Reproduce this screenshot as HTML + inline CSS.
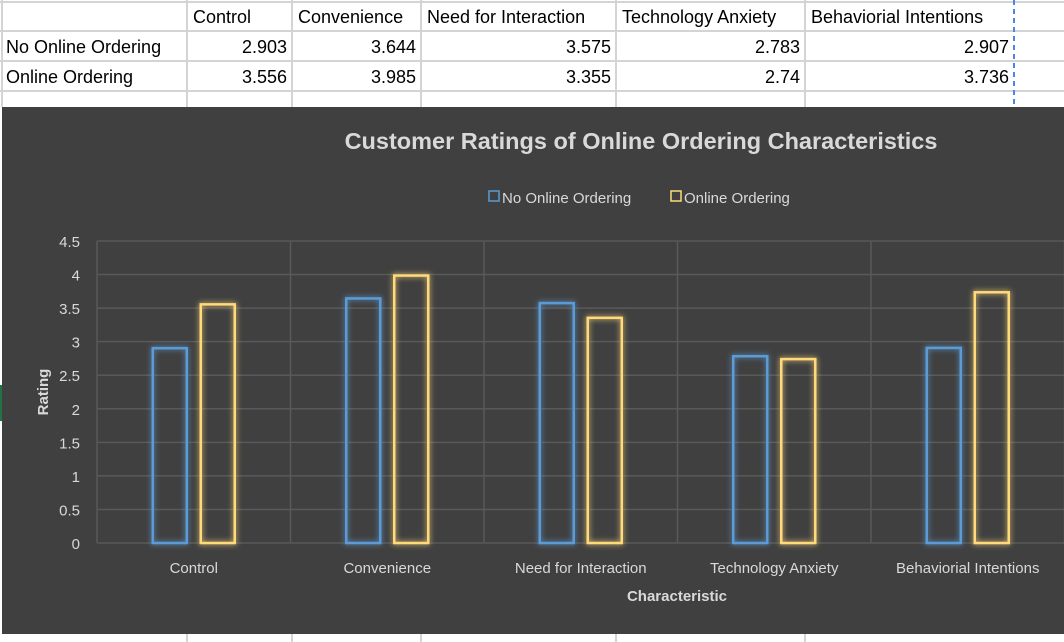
<!DOCTYPE html>
<html><head><meta charset="utf-8"><style>
body{margin:0;width:1064px;height:642px;overflow:hidden;background:#fff;font-family:"Liberation Sans",sans-serif;position:relative}
</style></head><body>
<svg id="sheet" width="1064" height="642" style="position:absolute;left:0;top:0">
</svg>
<svg id="chart" width="1064" height="642" style="position:absolute;left:0;top:0"></svg>
<script>
const categories=["Control","Convenience","Need for Interaction","Technology Anxiety","Behaviorial Intentions"];
const seriesNames=["No Online Ordering","Online Ordering"];
const noOnline=[2.903,3.644,3.575,2.783,2.907];
const online=[3.556,3.985,3.355,2.74,3.736];
const yTicks=[0,0.5,1,1.5,2,2.5,3,3.5,4,4.5];
const NS="http://www.w3.org/2000/svg";
function mk(p,t,a,txt){const e=document.createElementNS(NS,t);for(const k in a)e.setAttribute(k,a[k]);if(txt!==undefined)e.textContent=txt;p.appendChild(e);return e;}
const sh=document.getElementById('sheet');
const colX=[2,187,292,421,616,805,1014];
[2,31,61,91].forEach(y=>{mk(sh,'line',{x1:0,x2:1064,y1:y,y2:y,stroke:'#d4d4d4','stroke-width':2});});
colX.forEach((x,i)=>{if(i<6)mk(sh,'line',{x1:x,x2:x,y1:0,y2:107,stroke:'#d4d4d4','stroke-width':2});});
[187,292,421,616,805].forEach(x=>mk(sh,'line',{x1:x,x2:x,y1:634,y2:642,stroke:'#d4d4d4','stroke-width':2}));
mk(sh,'line',{x1:1014,x2:1014,y1:0,y2:107,stroke:'#4a86e8','stroke-width':2,'stroke-dasharray':'5,4'});
mk(sh,'rect',{x:0,y:385,width:3,height:36,fill:'#217346'});
function cellText(x,y,t,anchor){const e=mk(sh,'text',{x:x,y:y,'font-size':18,'text-anchor':anchor,fill:'#000','font-family':'Liberation Sans, sans-serif'},t);

}
categories.forEach((c,i)=>cellText(colX[i+1]+6,23,c,'start'));
cellText(6,53,seriesNames[0],'start');cellText(6,83,seriesNames[1],'start');
noOnline.forEach((v,i)=>cellText(colX[i+2]-5,53,String(v),'end'));
online.forEach((v,i)=>cellText(colX[i+2]-5,83,String(v),'end'));
const ch=document.getElementById('chart');
const bg=mk(ch,'rect',{x:2,y:107,width:1062,height:527,fill:'#404040'});

const x0=97,catW=193.5,yBase=543,yTop=241,yMax=4.5;
const ys=v=>yBase-(v/yMax)*(yBase-yTop);
const defs=mk(ch,'defs',{});
const f=mk(defs,'filter',{id:'glow',x:'-50%',y:'-10%',width:'200%',height:'120%'});
mk(f,'feGaussianBlur',{stdDeviation:3,result:'b'});
const m=mk(f,'feMerge',{});mk(m,'feMergeNode',{in:'b'});mk(m,'feMergeNode',{in:'SourceGraphic'});
yTicks.forEach(t=>{const l=mk(ch,'line',{x1:x0,x2:1064,y1:ys(t),y2:ys(t),stroke:'#595959','stroke-width':1.5});

const tx=mk(ch,'text',{x:80,y:ys(t)+6,'text-anchor':'end','font-size':15,fill:'#d9d9d9'},String(t));
});
for(let i=0;i<=5;i++){mk(ch,'line',{x1:x0+i*catW,x2:x0+i*catW,y1:yTop,y2:yBase,stroke:'#595959','stroke-width':1.5});}
categories.forEach((c,i)=>{const cx=x0+catW*(i+0.5);
const b1=mk(ch,'rect',{x:cx-41,y:ys(noOnline[i]),width:34,height:yBase-ys(noOnline[i]),fill:'none',stroke:'#5b9bd5','stroke-width':2.5,filter:'url(#glow)'});

const b2=mk(ch,'rect',{x:cx+7,y:ys(online[i]),width:34,height:yBase-ys(online[i]),fill:'none',stroke:'#ffd97a','stroke-width':2.5,filter:'url(#glow)'});

const t=mk(ch,'text',{x:cx,y:573,'text-anchor':'middle','font-size':15,fill:'#d9d9d9'},c);
});
const ttl=mk(ch,'text',{x:641,y:149,'text-anchor':'middle','font-size':23.5,'font-weight':'bold',fill:'#d9d9d9'},'Customer Ratings of Online Ordering Characteristics');

const xt=mk(ch,'text',{x:677,y:601,'text-anchor':'middle','font-size':15,'font-weight':'bold',fill:'#d9d9d9'},'Characteristic');

const yt=mk(ch,'text',{x:0,y:0,transform:'translate(48,392) rotate(-90)','text-anchor':'middle','font-size':15,'font-weight':'bold',fill:'#d9d9d9'},'Rating');

const lg=[[489,'#5b9bd5',seriesNames[0]],[671,'#ffd97a',seriesNames[1]]];
lg.forEach(([x,c,n])=>{const g=mk(ch,'g',{});

mk(g,'rect',{x:x,y:191,width:10,height:10,fill:'none',stroke:c,'stroke-width':1.5});
mk(g,'text',{x:x+13,y:203,'font-size':15,fill:'#d9d9d9'},n);});
</script>
</body></html>
